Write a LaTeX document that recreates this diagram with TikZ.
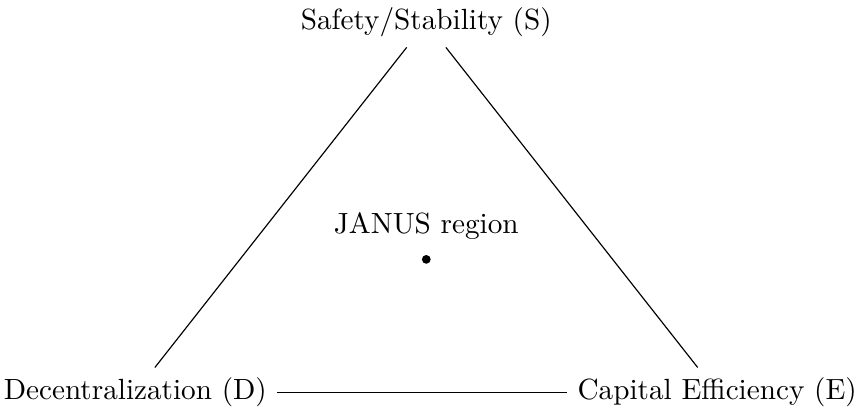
\documentclass[tikz,border=0pt]{standalone}
\usepackage{latexsym, amsmath, amsfonts}
\usepackage{tikz}

\begin{document}
\begin{tikzpicture}[corner/.style={inner sep=3.333pt}, janusdot/.style={circle, fill=black, inner sep=0pt, minimum size=3pt}]
        \useasboundingbox (-145.9pt,-5.1pt) rectangle (148.1pt,134.3pt);
        \node[corner] (S) at (0,4.45) {Safety/Stability (S)};
        \node[corner] (D) at (-3.5,0) {Decentralization (D)};
        \node[corner] (E) at (3.5,0) {Capital Efficiency (E)};
        \draw (S) -- (D);
        \draw (S) -- (E);
        \draw (D) -- (E);
        \node[janusdot, label={[label distance=1.5pt]above:JANUS region}] (J) at (0,1.6) {};
      \end{tikzpicture}
\end{document}
